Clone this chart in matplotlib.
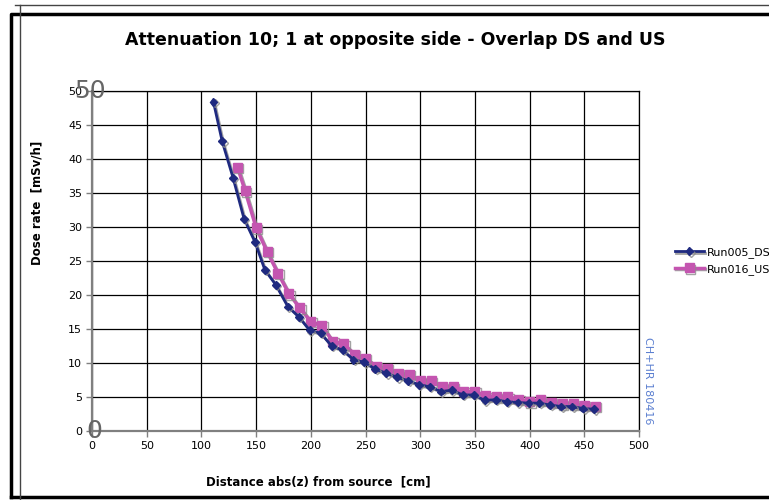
import matplotlib
matplotlib.use("Agg")
import matplotlib.pyplot as plt
import matplotlib.patheffects as pe
from matplotlib.lines import Line2D

# Run005_DS (downstream)
ds_x = [111, 119, 129, 139, 149, 158, 168, 179, 189, 199, 209, 219, 229, 239, 249, 259, 269, 279,
        289, 299, 309, 319, 329, 339, 349, 359, 369, 379, 389, 399, 409, 419, 429, 439, 449, 459]
ds_y = [48.4, 42.6, 37.2, 31.2, 27.8, 23.7, 21.5, 18.3, 16.8, 14.8, 14.4, 12.5, 11.9, 10.5, 10.1, 9.1,
        8.5, 7.9, 7.4, 6.8, 6.5, 5.8, 6.0, 5.3, 5.3, 4.5, 4.6, 4.3, 4.2, 4.1, 4.1, 3.8, 3.6, 3.6, 3.3, 3.2]

# Run016_US (upstream)
us_x = [133, 140, 150, 160, 170, 180, 190, 200, 210, 220, 230, 240, 250, 260, 270, 280, 290,
        300, 310, 320, 330, 340, 350, 360, 370, 380, 390, 400, 410, 420, 430, 440, 450, 460]
us_y = [38.8, 35.3, 29.9, 26.4, 23.2, 20.2, 18.1, 16.1, 15.5, 13.2, 12.8, 11.3, 10.7, 9.5, 9.2, 8.5,
        8.3, 7.4, 7.4, 6.5, 6.5, 5.8, 5.8, 5.2, 5.05, 5.05, 4.7, 4.3, 4.6, 4.2, 4.0, 4.0, 3.8, 3.6]

x_ticks = list(range(0, 501, 50))
y_ticks = list(range(0, 51, 5))

fig = plt.figure(figsize=(7.69, 5.0), dpi=100)
ax = fig.add_axes([92 / 769, 69 / 500, 547 / 769, 340 / 500])

shadow = [pe.SimpleLineShadow(offset=(1, -1), shadow_color="#8c8c8c", alpha=0.8), pe.Normal()]

ax.plot(ds_x, ds_y, color="#1f2a80", lw=2, marker="D", ms=4, mec="#1f2a80",
        label="Run005_DS", path_effects=shadow, zorder=4)
ax.plot(us_x, us_y, color="#c455b0", lw=2.5, marker="s", ms=6.5, mec="#c455b0",
        label="Run016_US", path_effects=shadow, zorder=3)

ax.set_xlim(0, 500)
ax.set_ylim(0, 50)
ax.set_xticks(x_ticks)
ax.set_yticks(y_ticks)
ax.tick_params(labelsize=8, length=4, width=1, color="#808080", pad=3)
ax.grid(True, color="black", lw=0.9)
ax.set_axisbelow(True)
for side in ["left", "bottom"]:
    ax.spines[side].set_color("#808080")
    ax.spines[side].set_linewidth(1.6)
for side in ["top", "right"]:
    ax.spines[side].set_color("black")
    ax.spines[side].set_linewidth(0.9)

# stray large gray labels at the axis ends
ax.text(-2, 50, "50", fontsize=18, color="#666666", ha="center", va="center", clip_on=False)
ax.text(2, 0, "0", fontsize=18, color="#666666", ha="center", va="center", clip_on=False)

fig.text(395 / 769, 1 - 40 / 500, "Attenuation 10; 1 at opposite side - Overlap DS and US",
         ha="center", va="center", fontsize=12.5, fontweight="bold")
fig.text(37 / 769, 1 - 203 / 500, "Dose rate  [mSv/h]", rotation=90,
         ha="center", va="center", fontsize=8.5, fontweight="bold")
fig.text(318 / 769, 1 - 482 / 500, "Distance abs(z) from source  [cm]",
         ha="center", va="center", fontsize=8.5, fontweight="bold")
fig.text(648 / 769, 1 - 381 / 500, "CH+HR 180416", rotation=270,
         ha="center", va="center", fontsize=8, color="#5b7fd0")

ax.legend(loc="center left", bbox_to_anchor=(665 / 769, 1 - 261 / 500),
          bbox_transform=fig.transFigure, frameon=False, fontsize=8,
          handlelength=2.6, handletextpad=0.3, labelspacing=0.5)

# outer frame lines
fig.add_artist(Line2D([11 / 769, 11 / 769, 1.0], [1 - 497 / 500, 1 - 14 / 500, 1 - 14 / 500],
                      color="black", lw=2.5, transform=fig.transFigure))
fig.add_artist(Line2D([11 / 769, 1.0], [1 - 497 / 500, 1 - 497 / 500],
                      color="black", lw=2.5, transform=fig.transFigure))
fig.add_artist(Line2D([20 / 769, 20 / 769], [0, 1 - 5 / 500],
                      color="#444444", lw=1, transform=fig.transFigure))
fig.add_artist(Line2D([15 / 769, 1.0], [1 - 5 / 500, 1 - 5 / 500],
                      color="#444444", lw=1, transform=fig.transFigure))

fig.savefig("out.png", dpi=100)
